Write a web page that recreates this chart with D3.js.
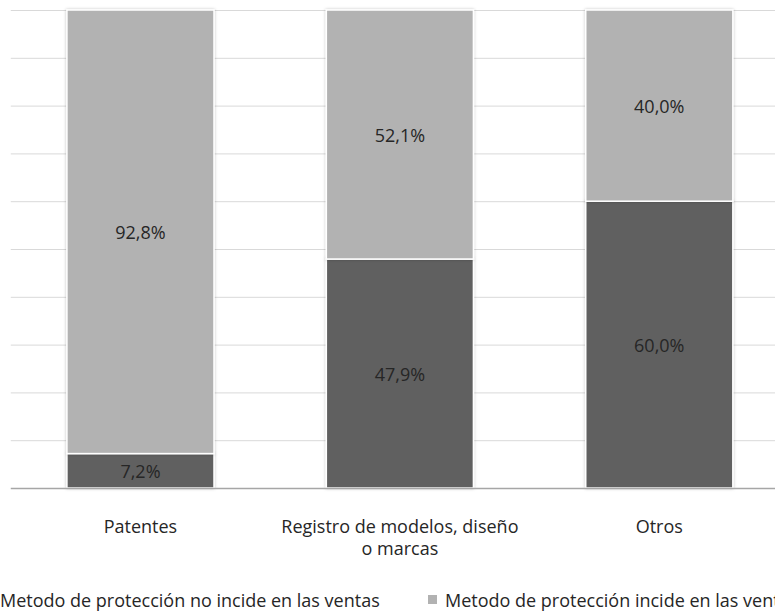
<!DOCTYPE html>
<html>
<head>
<meta charset="utf-8">
<script src="https://cdn.jsdelivr.net/npm/d3@7"></script>
<style>
  body { margin: 0; background: #fff; }
  svg { display: block; font-family: "Open Sans", sans-serif; }
</style>
</head>
<body>
<div id="canvas"></div>
<script>
var categories = [["Patentes"], ["Registro de modelos, diseño", "o marcas"], ["Otros"]];
var noIncide = [7.2, 47.9, 60.0];
var incide = [92.8, 52.1, 40.0];
var seriesNames = ["Metodo de protección no incide en las ventas", "Metodo de protección incide en las ventas"];
var colors = ["#606060", "#b2b2b2"];
var yTicks = [0, 10, 20, 30, 40, 50, 60, 70, 80, 90, 100];

var width = 775, height = 611;
var svg = d3.select("#canvas").append("svg")
    .attr("width", width)
    .attr("height", height);

var defs = svg.append("defs");
var shadow = defs.append("filter").attr("id", "shadow")
    .attr("x", "-10%").attr("y", "-10%").attr("width", "120%").attr("height", "120%");
shadow.append("feDropShadow")
    .attr("dx", 0).attr("dy", 0).attr("stdDeviation", 1.5)
    .attr("flood-color", "#000").attr("flood-opacity", 0.25);

var plotLeft = 10.75, plotRight = 789, plotTop = 10, plotBottom = 488;

var x = d3.scaleBand()
    .domain(d3.range(categories.length))
    .range([plotLeft, plotRight])
    .paddingInner(0.433)
    .paddingOuter(0.2165);

var y = d3.scaleLinear().domain([0, 100]).range([plotBottom, plotTop]);

// gridlines
svg.append("g").selectAll("line")
    .data(yTicks.slice(1))
    .enter().append("line")
    .attr("x1", plotLeft).attr("x2", width)
    .attr("y1", function (d) { return y(d) + 0.5; })
    .attr("y2", function (d) { return y(d) + 0.5; })
    .style("stroke", "#d9d9d9")
    .style("stroke-width", 1);

var stackData = categories.map(function (c, i) {
    return [
        { i: i, y0: 0, y1: noIncide[i], s: 0 },
        { i: i, y0: noIncide[i], y1: noIncide[i] + incide[i], s: 1 }
    ];
});
var segs = [].concat.apply([], stackData);

var bars = svg.append("g");
bars.selectAll("rect")
    .data(segs)
    .enter().append("rect")
    .attr("x", function (d) { return x(d.i); })
    .attr("y", function (d) { return y(d.y1); })
    .attr("width", x.bandwidth())
    .attr("height", function (d) { return y(d.y0) - y(d.y1); })
    .attr("filter", "url(#shadow)")
    .style("fill", function (d) { return colors[d.s]; })
    .style("stroke", "#fff")
    .style("stroke-width", 1.5);

// axis line
svg.append("line")
    .attr("x1", plotLeft).attr("x2", width)
    .attr("y1", plotBottom + 0.5).attr("y2", plotBottom + 0.5)
    .style("stroke", "#a6a6a6")
    .style("stroke-width", 1.5);

// value labels
var fmt = function (v) { return v.toFixed(1).replace(".", ",") + "%"; };
svg.append("g").selectAll("text")
    .data(segs)
    .enter().append("text")
    .attr("x", function (d) { return x(d.i) + x.bandwidth() / 2; })
    .attr("y", function (d) { return (y(d.y0) + y(d.y1)) / 2; })
    .attr("dy", "0.4em")
    .attr("text-anchor", "middle")
    .style("font-size", "18px")
    .style("fill", "#262626")
    .text(function (d) { return fmt(d.y1 - d.y0); });

// category labels
var cat = svg.append("g").selectAll("text")
    .data(categories)
    .enter().append("text")
    .attr("x", function (d, i) { return x(i) + x.bandwidth() / 2; })
    .attr("y", 533)
    .attr("text-anchor", "middle")
    .style("font-size", "18px")
    .style("fill", "#262626");
cat.selectAll("tspan")
    .data(function (d) { return d; })
    .enter().append("tspan")
    .attr("x", function () { return d3.select(this.parentNode).attr("x"); })
    .attr("dy", function (d, j) { return j === 0 ? 0 : 22; })
    .text(function (d) { return d; });

// legend
var legendX = [-17, 428];
var legend = svg.append("g").selectAll("g")
    .data(seriesNames)
    .enter().append("g")
    .attr("transform", function (d, i) { return "translate(" + legendX[i] + ",607)"; });
legend.append("rect")
    .attr("x", 0).attr("y", -12)
    .attr("width", 9).attr("height", 9)
    .style("fill", function (d, i) { return colors[i]; });
legend.append("text")
    .attr("x", 17).attr("y", 0)
    .style("font-size", "18px")
    .style("fill", "#262626")
    .text(function (d) { return d; });
</script>
</body>
</html>
